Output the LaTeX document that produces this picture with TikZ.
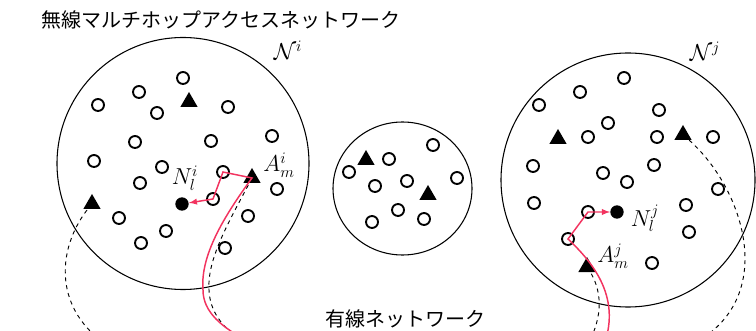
\documentclass[tikz,border=0pt]{standalone}
\usepackage{fontspec}
\newfontfamily\jpfont{Noto Sans CJK JP}
\usepackage{tikz}
\usetikzlibrary{shapes.geometric, arrows.meta}
\definecolor{linkred}{HTML}{F2335F}

\begin{document}
\begin{tikzpicture}[x=0.75pt, y=-0.75pt,
  relay/.style={circle, draw, line width=1.4pt, minimum size=9pt, inner sep=0pt},
  gateway/.style={regular polygon, regular polygon sides=3, fill, inner sep=0pt, minimum size=15pt},
  dest/.style={circle, fill, minimum size=10pt, inner sep=0pt},
  area/.style={line width=0.8pt},
  route/.style={linkred, line width=1.1pt},
  wired/.style={dashed, line width=0.7pt},
  tag/.style={font=\fontsize{17.5}{20}\selectfont, inner sep=0pt},
  caption/.style={font=\jpfont\fontsize{15}{18}\selectfont, inner sep=0pt}
]
\useasboundingbox (0,0) rectangle (756,331);
\clip (0,0) rectangle (756,331);

% access networks
\draw[area] (183,163.5) circle[radius=126];
\draw[area] (402.5,188.5) circle[x radius=69.5, y radius=66.5];
\draw[area] (628,180) circle[radius=127];

\node[caption, anchor=west] (title) at (41,20) {無線マルチホップアクセスネットワーク};
\node[caption] (wired net) at (405,319) {有線ネットワーク};
\node[tag] (lbl ni) at (288,50) {$\mathcal{N}^i$};
\node[tag] (lbl nj) at (705,51) {$\mathcal{N}^j$};

% network i
\foreach \p [count=\k] in {(183,78),(139,92),(98,105),(157,113),(228,107),(135,142),
  (211,141),(272,136),(94,161),(162,167),(140,183),(277,189),(119,218),(166,231),
  (141,243),(248,216),(225,248)}
  \node[relay] (ui\k) at \p {};
\node[relay] (ri1) at (223,172) {};
\node[relay] (ri2) at (213,199) {};
\node[gateway] (gi1) at (189,102) {};
\node[gateway] (gi2) at (92,204) {};
\node[gateway] (ai) at (252,178) {};
\node[dest] (ni) at (182,204) {};
\node[tag] (lbl ani) at (279,165) {$A_m^i$};
\node[tag] (lbl nli) at (185,178) {$N_l^i$};

% middle network
\foreach \p [count=\k] in {(433,145),(389,159),(349,172),(407,181),(375,186),
  (457,178),(398,210),(424,219),(372,222)}
  \node[relay] (um\k) at \p {};
\node[gateway] (gm1) at (366,160) {};
\node[gateway] (gm2) at (428,195) {};

% network j
\foreach \p [count=\k] in {(624,78),(580,92),(539,105),(659,110),(608,123),(588,137),
  (657,137),(713,137),(533,166),(654,165),(603,173),(627,182),(718,189),(534,203),
  (686,205),(689,232),(652,263)}
  \node[relay] (uj\k) at \p {};
\node[relay] (rj1) at (568,239) {};
\node[relay] (rj2) at (588,212) {};
\node[gateway] (gj1) at (558,139) {};
\node[gateway] (gj2) at (683,135) {};
\node[gateway] (aj) at (587,267) {};
\node[dest] (nj) at (617,212) {};
\node[tag] (lbl anj) at (613,256) {$A_m^j$};
\node[tag] (lbl nlj) at (645,218) {$N_l^j$};

% ends below the picture
\coordinate (wi) at (250,342);
\coordinate (wd1) at (240,340);
\coordinate (wd2) at (100,340);
\coordinate (wj) at (604,345);
\coordinate (wd3) at (590,340);
\coordinate (wd4) at (700,340);

% wired links
\draw[wired] (gi2.center) .. controls (60,240) and (50,300) .. (wd2);
\draw[wired] (ai.center) .. controls (230,220) and (207,258) .. (209,290)
  .. controls (210,312) and (222,326) .. (wd1);
\draw[wired] (aj.center) .. controls (600,285) and (605,310) .. (wd3);
\draw[wired] (gj2.center) .. controls (740,180) and (780,290) .. (wd4);

% routes
\draw[route, -latex] (wi) .. controls (222,328) and (203,312) .. (203,290)
  .. controls (200,255) and (225,215) .. (ai.center) -- (ri1.center) -- (ri2.center) -- (ni);
\draw[route, -latex] (wj) .. controls (622,295) and (590,260) .. (rj1.center)
  -- (rj2.center) -- (nj);

\end{tikzpicture}
\end{document}
